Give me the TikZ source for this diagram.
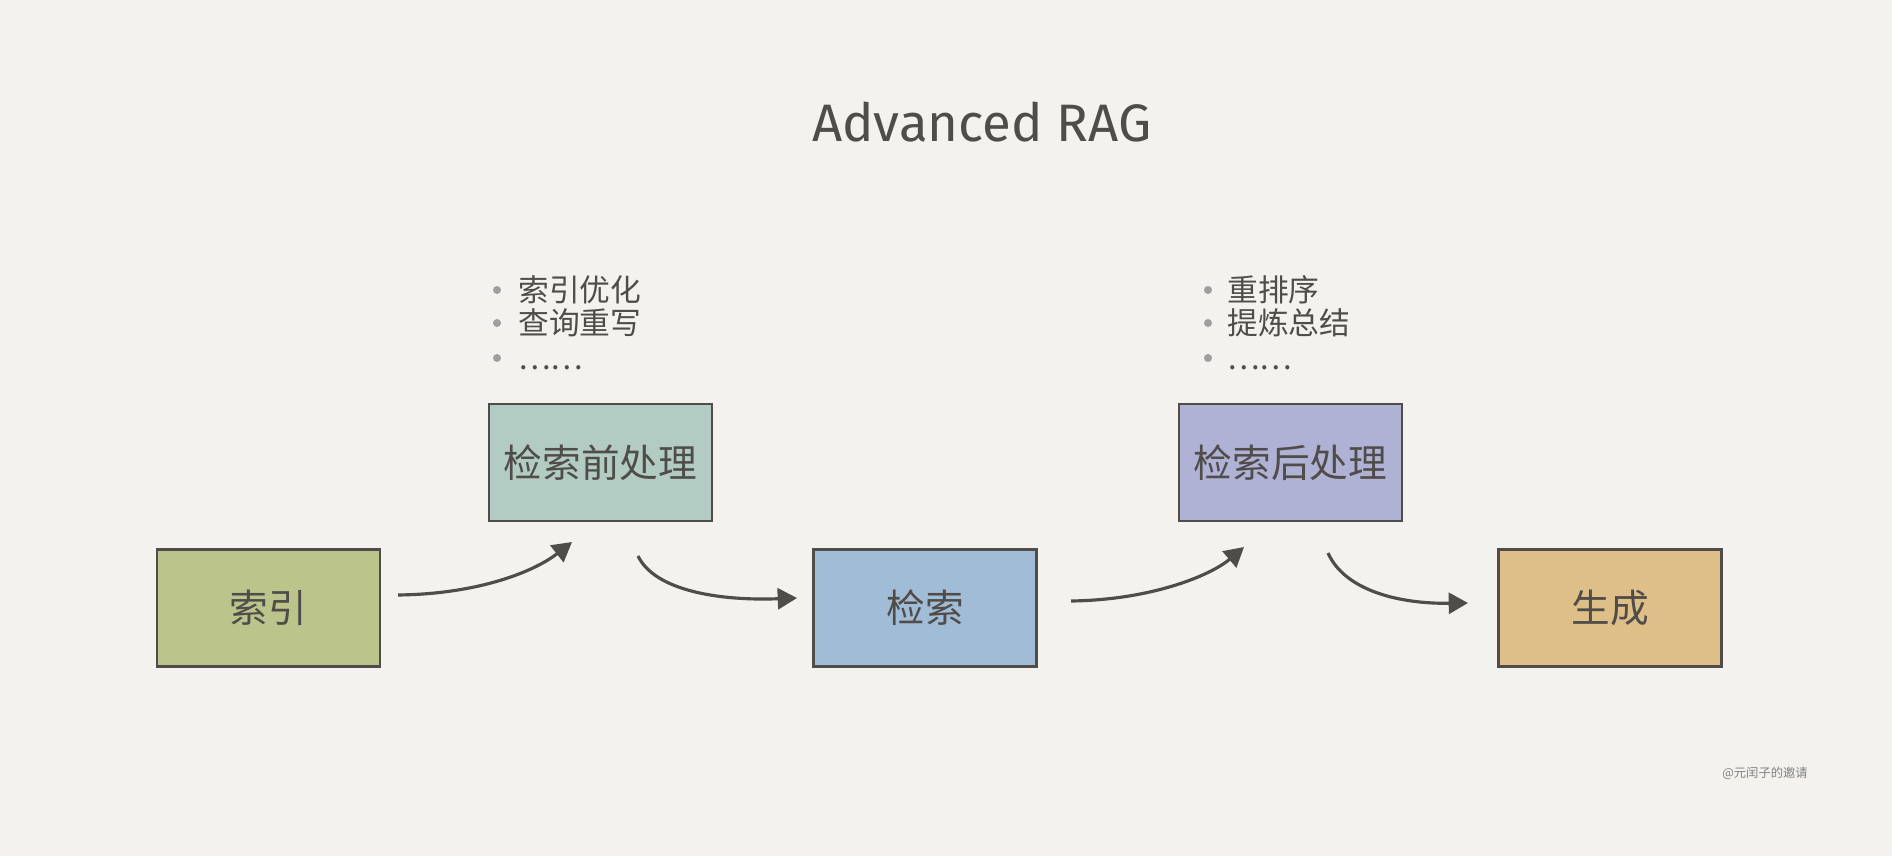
\documentclass[tikz,border=0pt]{standalone}
\usepackage{fontspec}
\setmainfont{Fira Sans}
\newfontfamily\cjk{Noto Sans CJK SC}
\usetikzlibrary{arrows.meta,positioning}
\definecolor{paper}{HTML}{F3F2EE}
\definecolor{ink}{HTML}{4F4C49}
\definecolor{idxgreen}{HTML}{BBC58B}
\definecolor{pregreen}{HTML}{B2CCC3}
\definecolor{retblue}{HTML}{A0BCD6}
\definecolor{postlav}{HTML}{AFB2D4}
\definecolor{gentan}{HTML}{DFBF88}
\tikzset{
  stage/.style={draw=ink, line width=1.6pt, minimum width=4.46cm, minimum height=2.34cm,
    font=\cjk\fontsize{22}{26}\selectfont, text=ink},
  flow/.style={draw=ink, line width=1.8pt, -{Triangle[length=11pt,width=12pt]}},
  note/.style={font=\cjk\fontsize{17.5}{21}\selectfont, text=ink, anchor=west, inner sep=0pt,
    text height=0.8em, text depth=0.04em},
  bullet/.style={circle, fill=gray!75, inner sep=0pt, minimum size=0.16cm}
}
\begin{document}
\begin{tikzpicture}[x=0.02cm,y=0.02cm]
  \fill[paper] (0,0) rectangle (1892,856);
  \node[font=\fontsize{30}{36}\selectfont, text=ink] (title) at (982,734) {Advanced RAG};

  % stages
  \node[stage, fill=idxgreen] (idx) at (268.5,248) {索引};
  \node[stage, fill=pregreen] (pre) at (600.5,393.5) {检索前处理};
  \node[stage, fill=retblue] (ret) at (925,248) {检索};
  \node[stage, fill=postlav] (post) at (1290.5,393.5) {检索后处理};
  \node[stage, fill=gentan] (gen) at (1610,248) {生成};

  % notes
  \foreach \txt/\y [count=\i] in {索引优化/566,查询重写/533,……/498}{
    \node[bullet] (predot\i) at (497,\y) {};
    \node[note] (prenote\i) at (518,{\y-5}) {\txt};
  }
  \foreach \txt/\y [count=\i] in {重排序/566,提炼总结/533,……/498}{
    \node[bullet] (postdot\i) at (1208,\y) {};
    \node[note] (postnote\i) at (1227,{\y-5}) {\txt};
  }

  % arrows
  \coordinate (a1s) at (398,261);  \coordinate (a1e) at (572,314);
  \coordinate (a2s) at (638,300);  \coordinate (a2e) at (797,258);
  \coordinate (a3s) at (1071,255); \coordinate (a3e) at (1244,309);
  \coordinate (a4s) at (1328,303); \coordinate (a4e) at (1468,253);
  \draw[flow] (a1s) .. controls (480,262) and (535,285) .. (a1e);
  \draw[flow] (a2s) .. controls (655,265) and (720,255) .. (a2e);
  \draw[flow] (a3s) .. controls (1150,256) and (1210,280) .. (a3e);
  \draw[flow] (a4s) .. controls (1345,265) and (1400,252) .. (a4e);

  \node[font=\cjk\fontsize{7}{8}\selectfont, text=gray] (mark) at (1765,83) {@元闰子的邀请};
\end{tikzpicture}
\end{document}
